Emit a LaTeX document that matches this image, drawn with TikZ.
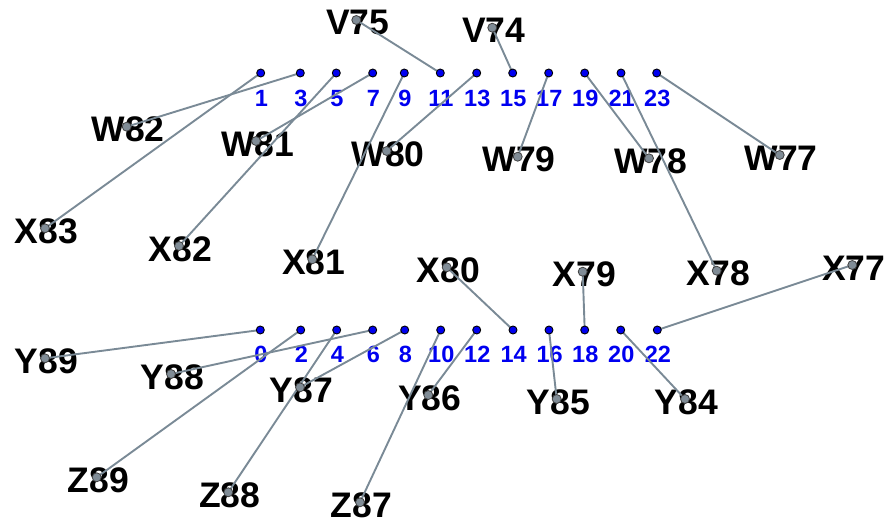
\documentclass[tikz,border=0pt]{standalone}
\usepackage{fontspec}
\setmainfont{Liberation Sans}
\definecolor{wirecol}{RGB}{122,138,150}
\definecolor{enddot}{RGB}{128,140,150}
\definecolor{pinblue}{RGB}{0,0,240}
\tikzset{
  wire/.style={draw=wirecol, line width=1.9pt},
  pindot/.style={circle, draw=black, fill=pinblue, line width=0.9pt, inner sep=0pt, minimum size=8pt},
  enddotstyle/.style={circle, draw=black!75, fill=enddot, line width=0.8pt, inner sep=0pt, minimum size=9pt},
  pinnum/.style={text=pinblue, font=\fontsize{23.5}{23.5}\selectfont\bfseries, inner sep=0pt},
  wirelabel/.style={text=black, font=\fontsize{35.5}{35.5}\selectfont\bfseries, inner sep=0pt}
}
\begin{document}
\begin{tikzpicture}[x=1pt,y=-1pt]
\useasboundingbox (0,0) rectangle (886,519);
% pin coordinates
\foreach \n/\x in {1/260.7,3/300.3,5/336.3,7/372.7,9/404.3,11/440.3,13/476.7,15/512.7,17/548.7,19/584.7,21/621,23/656.7}{
  \coordinate (t\n) at (\x,73);
  \node[pinnum] (tl\n) at (\x+0.6,98.5) {\n};
}
\foreach \n/\x in {0/260.3,2/300.7,4/336.7,6/372.7,8/404.7,10/440.7,12/476.7,14/513,16/549,18/584.7,20/620.7,22/657.3}{
  \coordinate (b\n) at (\x,330);
  \node[pinnum] (bl\n) at (\x+0.6,354.5) {\n};
}
% wire ends and labels
\foreach \l/\x/\y in {V75/356.3/20,V74/492.3/27.7,W82/126.7/126.7,W81/256/141,W80/386.7/151,X83/45/228.3,X82/179/246,X81/312.3/259.3,W79/517.7/156.7,W78/649/158.3,W77/779.7/155,X80/446.7/267.3,X79/582.7/271.7,X78/716.7/270.7,X77/852.3/265,Y89/45/358.3,Y88/171/374,Y87/300/387.3,Y86/428.3/395,Z89/96.7/477.3,Z88/228.3/492.3,Z87/360/502.3,Y85/556.7/399,Y84/685/399}{
  \coordinate (e\l) at (\x,\y);
  \node[wirelabel] (lab\l) at (\x+1.5,\y+2.8) {\l};
}
% wires
\foreach \a/\b in {t1/X83,t3/W82,t5/X82,t7/W81,t9/X81,t11/V75,t13/W80,t15/V74,t17/W79,t19/W78,t21/X78,t23/W77,b0/Y89,b2/Z89,b4/Z88,b6/Y88,b8/Y87,b10/Z87,b12/Y86,b14/X80,b16/Y85,b18/X79,b20/Y84,b22/X77}{
  \draw[wire] (\a) -- (e\b);
}
% dots
\foreach \n in {1,3,...,23}{ \node[pindot] (td\n) at (t\n) {}; }
\foreach \n in {0,2,...,22}{ \node[pindot] (bd\n) at (b\n) {}; }
\foreach \l in {V75,V74,W82,W81,W80,X83,X82,X81,W79,W78,W77,X80,X79,X78,X77,Y89,Y88,Y87,Y86,Z89,Z88,Z87,Y85,Y84}{
  \node[enddotstyle] (ed\l) at (e\l) {};
}
\end{tikzpicture}
\end{document}
